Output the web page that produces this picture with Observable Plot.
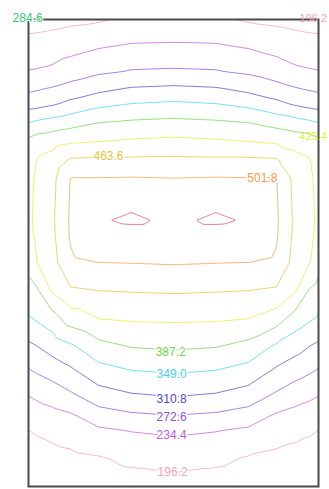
<!DOCTYPE html>
<html>
<head>
<meta charset="utf-8">
<script src="https://cdn.jsdelivr.net/npm/d3@7"></script>
<script src="https://cdn.jsdelivr.net/npm/@observablehq/plot@0.6"></script>
<style>
  html, body { margin: 0; padding: 0; background: #fff; overflow: hidden; }
  #chart svg { display: block; }
</style>
</head>
<body>
<div id="chart"></div>
<script>
// Sample positions across the plate: x across the width, y down from the top edge
const xs = [0, 2, 5, 9, 15, 22, 31, 40, 47, 53, 57, 60, 62];
const ys = [0, 3, 6, 10, 14, 18, 22, 26, 30, 34, 40, 43, 46, 52, 58, 64, 70, 75, 80, 84, 88, 94, 100];

// Temperature at each sample point, one row per ys entry, one column per xs entry
const temperature = [
  [182, 183, 184, 188, 192, 202, 205, 202, 192, 188, 184, 183, 182],
  [196, 197, 200, 205, 212, 221, 223, 221, 212, 205, 200, 197, 196],
  [210, 212, 215, 222, 233, 240, 241, 240, 233, 222, 215, 212, 210],
  [228, 231, 236, 248, 258, 265, 268, 265, 258, 248, 236, 231, 228],
  [258, 262, 268, 278, 291, 305, 309, 305, 291, 278, 268, 262, 258],
  [294, 297, 305, 320, 338, 349, 354, 349, 338, 320, 305, 297, 294],
  [348, 355, 363, 372, 386, 392, 396, 392, 386, 372, 363, 355, 348],
  [396, 407, 411, 419, 424, 429, 433, 429, 424, 419, 411, 407, 396],
  [408, 428, 437, 467, 469, 469, 470, 469, 469, 467, 437, 428, 408],
  [413, 434, 452, 503, 503, 504, 502, 504, 503, 503, 452, 434, 413],
  [417, 435, 455, 506, 530, 536, 525, 536, 530, 506, 455, 435, 417],
  [418, 436, 456, 507, 537, 545, 534, 545, 537, 507, 456, 436, 418],
  [416, 435, 455, 506, 526, 528, 528, 528, 526, 506, 455, 435, 416],
  [401, 428, 449, 497, 502, 503, 505, 503, 502, 497, 449, 428, 401],
  [373, 385, 430, 459, 464, 466, 468, 466, 464, 459, 430, 385, 373],
  [345, 355, 370, 406, 426, 430, 431, 430, 426, 406, 370, 355, 345],
  [303, 311, 326, 343, 375, 389, 393, 389, 375, 343, 326, 311, 303],
  [271, 279, 290, 306, 337, 350, 355, 350, 337, 306, 290, 279, 271],
  [238, 245, 254, 270, 298, 311, 318, 311, 298, 270, 254, 245, 238],
  [217, 221, 227, 236, 263, 274, 280, 274, 263, 236, 227, 221, 217],
  [196, 200, 205, 212, 228, 236, 241, 236, 228, 212, 205, 200, 196],
  [181, 183, 185, 188, 193, 204, 210, 204, 193, 188, 185, 183, 181],
  [166, 168, 170, 172, 175, 180, 183, 180, 175, 172, 170, 168, 166]
];

// Isotherm levels and their line colours
const levels = [196.2, 234.4, 272.6, 310.8, 349.0, 387.2, 425.4, 463.6, 501.8, 540.0];
const levelColors = ["#f2a2b6", "#c25ad6", "#8a52d8", "#4d48c8", "#44d2ec",
                     "#6cd64e", "#e6ea3a", "#e8c23c", "#f09c4c", "#e0506e"];

// Inline labels: which isotherm, and where along it the value is written
const labelLevels = [196.2, 234.4, 272.6, 310.8, 349.0, 387.2, 463.6, 501.8];
const labelX = [30.8, 30.6, 30.6, 30.6, 30.6, 30.4, 17.1, 50.0];
const labelY = [97.0, 88.9, 85.2, 81.4, 76.0, 71.3, 29.3, 34.0];

// Smaller tags sitting on the right edge of the plate
const edgeLevels = [425.4, 196.2];
const edgeX = [60.9, 60.9];
const edgeY = [25.1, -0.3];

// Value tag at the upper left corner of the plate
const cornerTag = {text: "284.6", x: -0.2, y: -0.3};

const points = [];
ys.forEach((y, j) => xs.forEach((x, i) => points.push({x, y, t: temperature[j][i]})));

const labels = labelLevels.map((level, k) => ({level, x: labelX[k], y: labelY[k]}));
const edgeLabels = edgeLevels.map((level, k) => ({level, x: edgeX[k], y: edgeY[k]}));

const chart = Plot.plot({
  width: 329,
  height: 489,
  marginLeft: 28,
  marginRight: 11,
  marginTop: 19,
  marginBottom: 3,
  x: {domain: [0, 62], axis: null},
  y: {domain: [0, 100], reverse: true, axis: null},
  color: {type: "ordinal", domain: levels, range: levelColors},
  style: {fontFamily: "Liberation Sans, Arial, sans-serif", background: "#fff"},
  marks: [
    Plot.contour(points, {
      x: "x", y: "y", stroke: "t", fill: "none",
      thresholds: levels,
      interpolate: "barycentric",
      pixelSize: 1,
      strokeWidth: 1,
      strokeOpacity: 0.72
    }),
    Plot.frame({stroke: "#4a4a4a", strokeWidth: 2}),
    Plot.text(labels, {
      x: "x", y: "y",
      text: d => d.level.toFixed(1),
      fill: "level",
      stroke: "white", strokeWidth: 3,
      fontSize: 12
    }),
    Plot.text(edgeLabels, {
      x: "x", y: "y",
      text: d => d.level.toFixed(1),
      fill: "level",
      fontSize: 11
    }),
    Plot.text([cornerTag], {
      x: "x", y: "y", text: "text",
      fill: "#35c67c", stroke: "white", strokeWidth: 2,
      fontSize: 12
    })
  ]
});

document.getElementById("chart").appendChild(chart);
</script>
</body>
</html>
